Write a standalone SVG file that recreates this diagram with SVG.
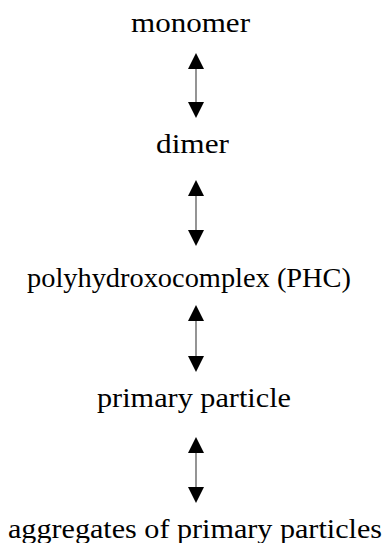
<svg xmlns="http://www.w3.org/2000/svg" width="384" height="543" viewBox="0 0 384 543">
<style>
.lbl{font-family:"Liberation Serif","Times New Roman",serif;font-size:27.5px;fill:#000;}
.conn{stroke:#7a7a7a;stroke-width:1.6;fill:none;marker-start:url(#ah);marker-end:url(#ah);}
</style>
<defs>
<marker id="ah" viewBox="0 0 16 16" markerWidth="16" markerHeight="16" markerUnits="userSpaceOnUse" refX="0" refY="8" orient="auto-start-reverse">
<path d="M0,0 L16,8 L0,16 z" fill="#000"/>
</marker>
</defs>
<rect width="384" height="543" fill="#fff"/>
<g id="monomer"><text class="lbl" x="131" y="31.5" textLength="119" lengthAdjust="spacingAndGlyphs">monomer</text></g>
<g id="dimer"><text class="lbl" x="156" y="152.5" textLength="73" lengthAdjust="spacingAndGlyphs">dimer</text></g>
<g id="phc"><text class="lbl" x="27" y="287" textLength="324" lengthAdjust="spacingAndGlyphs">polyhydroxocomplex (PHC)</text></g>
<g id="primary"><text class="lbl" x="97" y="406.5" textLength="194" lengthAdjust="spacingAndGlyphs">primary particle</text></g>
<g id="aggregates"><text class="lbl" x="8" y="537.5" textLength="374" lengthAdjust="spacingAndGlyphs">aggregates of primary particles</text></g>
<g id="connectors">
<line class="conn" x1="196" y1="69" x2="196" y2="102"/>
<line class="conn" x1="196" y1="196" x2="196" y2="230"/>
<line class="conn" x1="196" y1="321" x2="196" y2="356"/>
<line class="conn" x1="196" y1="453" x2="196" y2="487"/>
</g>
</svg>
